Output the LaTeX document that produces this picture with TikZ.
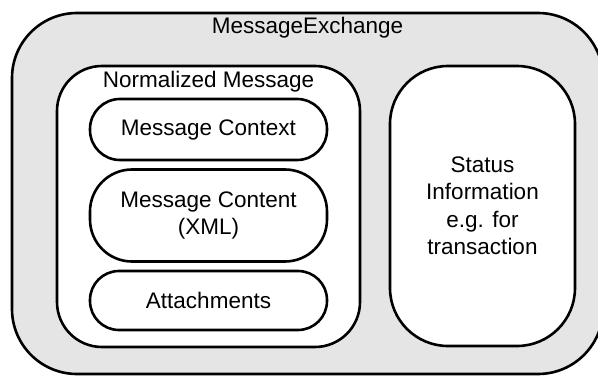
\documentclass[tikz,border=0pt]{standalone}
\usepackage{fontspec}
\setmainfont{Liberation Sans}
\usetikzlibrary{positioning}

\begin{document}
\begin{tikzpicture}[x=1pt, y=1pt, node distance=9.5pt,
            every node/.style={font=\fontsize{22.5}{27.5}\selectfont, align=center},
            frame/.style={draw, rectangle, line width=2.6pt, inner sep=0pt, outer sep=0pt},
            part/.style={frame, fill=white, minimum width=237pt}]

            \useasboundingbox (0,0) rectangle (598,376);
            \clip (0,0) rectangle (598,376);

            % outer exchange box runs past the right edge
            \node[frame, fill=black!10, minimum width=591pt, minimum height=361pt, rounded corners=65pt] (exchange) at (307.5,182.5) {};
            \node[anchor=base] (exchangetitle) at ([yshift=-21pt]exchange.north) {MessageExchange};

            % normalized message with its three parts
            \node[frame, fill=white, minimum width=303pt, minimum height=281pt, rounded corners=45pt] (normalized) at (208.5,169.5) {};
            \node[anchor=base] (normalizedtitle) at ([yshift=-21pt]normalized.north) {Normalized Message};

            \node[part, minimum height=61pt, rounded corners=30pt] (context) at (208.5,246.5) {Message Context};
            \node[part, minimum height=92pt, rounded corners=42pt, below=of context] (content) {Message Content\\(XML)};
            \node[part, minimum height=59pt, rounded corners=29pt, below=of content] (attach) {Attachments};

            % status box on the right
            \node[frame, fill=white, minimum width=185pt, minimum height=280pt, rounded corners=58pt] (status) at (482.5,170) {Status\\Information\\e.g. for\\transaction};
        \end{tikzpicture}
\end{document}
